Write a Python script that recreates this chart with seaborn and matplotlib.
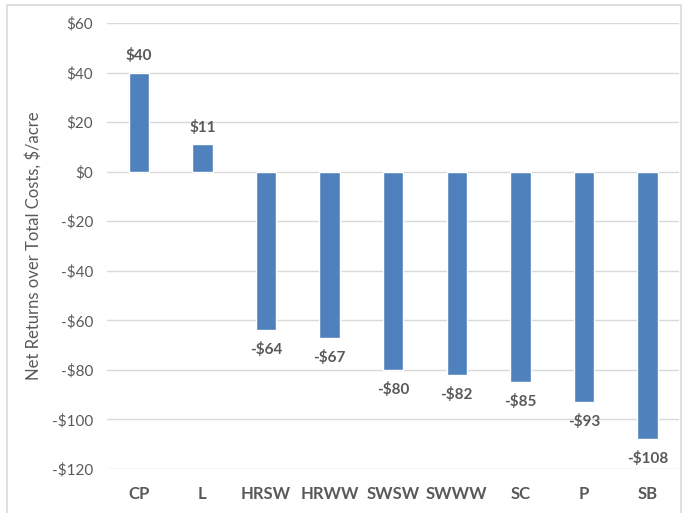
import numpy as np
import pandas as pd
import matplotlib
matplotlib.use("Agg")
import matplotlib.pyplot as plt
import seaborn as sns
from matplotlib.patches import Rectangle

# chart data
crops = ["CP", "L", "HRSW", "HRWW", "SWSW", "SWWW", "SC", "P", "SB"]
net_returns = [40, 11, -64, -67, -80, -82, -85, -93, -108]
y_ticks = [60, 40, 20, 0, -20, -40, -60, -80, -100, -120]

df = pd.DataFrame({"crop": crops, "value": net_returns})

sns.set_theme(style="white")
plt.rcParams["font.family"] = ["Lato", "DejaVu Sans"]

text_color = "#595959"
bar_color = "#4F81BD"

fig = plt.figure(figsize=(6.82, 5.13), dpi=100)
ax = fig.add_axes([0.157, 0.086, 0.839, 0.869])

sns.barplot(data=df, x="crop", y="value", color=bar_color, width=0.32,
            saturation=1, ax=ax, zorder=3)

ax.set_ylim(-120, 60)
ax.set_yticks(y_ticks)
ax.set_yticklabels([f"${v}" if v >= 0 else f"-${-v}" for v in y_ticks],
                   fontsize=11, color=text_color)
ax.tick_params(axis="y", length=0, pad=10)
ax.tick_params(axis="x", length=0, pad=12)
for lbl in ax.get_xticklabels():
    lbl.set_fontweight("bold")
    lbl.set_fontsize(12)
    lbl.set_color(text_color)

ax.yaxis.grid(True, color="#D9D9D9", linewidth=1)
ax.set_axisbelow(True)
for s in ax.spines.values():
    s.set_visible(False)

ax.set_xlabel("")
ax.set_ylabel("Net Returns over Total Costs, $/acre", fontsize=12,
              color=text_color)
ax.yaxis.set_label_coords(-0.114, 0.5)

# data labels
for i, v in enumerate(net_returns):
    txt = f"${v}" if v >= 0 else f"-${-v}"
    off = 12 if v >= 0 else -14
    ax.annotate(txt, (i, v), xytext=(0, off), textcoords="offset points",
                ha="center", va="center", fontsize=11, fontweight="bold",
                color=text_color)

# outer frame
fig.patches.append(Rectangle((7 / 682, -0.01), 674 / 682, 1 - 5 / 513 + 0.01,
                             transform=fig.transFigure, fill=False,
                             edgecolor="#D9D9D9", linewidth=1.2))

fig.savefig("out.png", dpi=100)
